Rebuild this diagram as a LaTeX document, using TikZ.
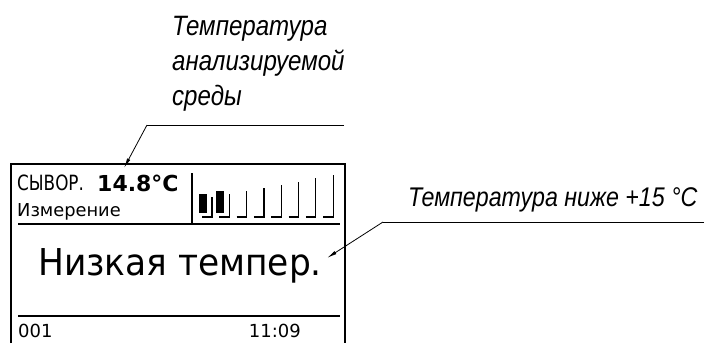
\documentclass[tikz,border=0pt]{standalone}
\usepackage{fontspec}
\setmainfont{DejaVu Sans}
\newfontfamily\gostfont[FakeStretch=0.86]{Liberation Sans}
\newfontfamily\narrowfont[FakeStretch=0.8]{DejaVu Sans}
\newfontfamily\screenfont[FakeStretch=0.93]{DejaVu Sans}
\usetikzlibrary{arrows.meta}

\tikzset{
  frameline/.style = {line width=1.8pt},
  rule/.style = {line width=1.3pt},
  leader/.style = {line width=0.8pt},
  pointer/.style = {leader, -{Latex[length=10pt, width=3.5pt]}},
  note/.style = {font=\gostfont\itshape\fontsize{28}{35}\selectfont, anchor=base west},
}

\begin{document}
\begin{tikzpicture}[x=1pt, y=-1pt, inner sep=0pt]
\useasboundingbox (0,0) rectangle (707,343);

% display
\draw [frameline] (11,343) -- (11,164) -- (345,164) -- (345,343);
\draw [rule] (18,224) -- (340,224);
\draw [rule] (192,173) -- (192,224);
\draw [rule] (18,316) -- (340,316);

% header
\node [anchor=base west, font=\narrowfont\fontsize{21}{21}\selectfont] (sensor) at (17,190) {СЫВОР.};
\node [anchor=base west, font=\bfseries\fontsize{22}{22}\selectfont] (tempval) at (97,191) {14.8°C};
\node [anchor=base west, font=\fontsize{17.8}{18}\selectfont] (mode) at (17,216) {Измерение};

% level bars
\foreach \i in {0,...,7} {
  \pgfmathsetmacro{\bx}{212+17.3*\i}
  \pgfmathsetmacro{\bt}{197-3.1*\i}
  \draw [line width=1.2pt] (\bx-10,217) -- (\bx,217) -- (\bx,\bt);
}
\foreach \i in {0,1} {
  \pgfmathsetmacro{\bx}{212+17.3*\i}
  \pgfmathsetmacro{\bt}{197-3.1*\i}
  \fill (\bx-13,\bt-3) rectangle (\bx-5,213);
}

% message and footer
\node [anchor=base, font=\screenfont\fontsize{37}{37}\selectfont] (status) at (180,275) {Низкая темпер.};
\node [anchor=base west, font=\fontsize{18}{18}\selectfont] (num) at (18,337) {001};
\node [anchor=base east, font=\fontsize{18}{18}\selectfont] (clock) at (301,337) {11:09};

% callouts
\node [note, align=left, anchor=north west] (medium) at (172,16)
  {Температура\\анализируемой\\среды};
\coordinate (mediumKnee) at (147,125);
\coordinate (mediumEnd) at (344,125);
\coordinate (mediumTip) at (124,168);
\draw [leader] (mediumEnd) -- (mediumKnee);
\draw [pointer] (mediumKnee) -- (mediumTip);

\node [note, font=\gostfont\itshape\fontsize{27}{30}\selectfont] (lowtemp) at (408,206) {Температура ниже +15 °С};
\coordinate (lowKnee) at (383,222);
\coordinate (lowEnd) at (704,222);
\coordinate (lowTip) at (327,258);
\draw [leader] (lowEnd) -- (lowKnee);
\draw [pointer] (lowKnee) -- (lowTip);

\end{tikzpicture}
\end{document}
